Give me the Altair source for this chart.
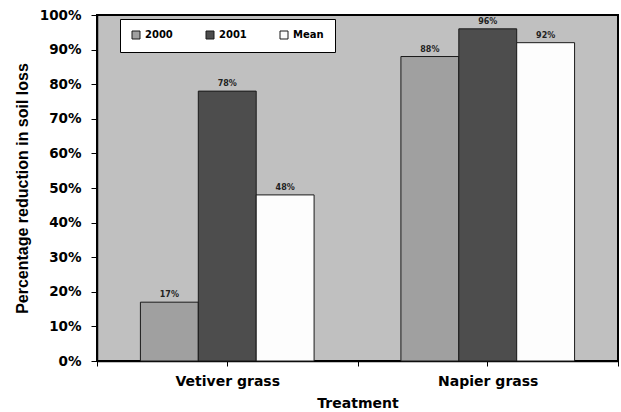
import altair as alt
import pandas as pd

# Percentage reduction in soil loss by hedge treatment and season
treatments = ["Vetiver grass", "Napier grass"]
series = ["2000", "2001", "Mean"]
reduction_2000 = [17, 88]
reduction_2001 = [78, 96]
reduction_mean = [48, 92]
series_colors = ["#a0a0a0", "#4d4d4d", "#fdfdfd"]
percent_ticks = [0, 10, 20, 30, 40, 50, 60, 70, 80, 90, 100]

rows = []
for i, t in enumerate(treatments):
    for s, vals in zip(series, [reduction_2000, reduction_2001, reduction_mean]):
        rows.append({"Treatment": t, "Series": s, "Reduction": vals[i] / 100})
df = pd.DataFrame(rows)

WIDE = "DejaVu Sans"
NARROW = "Liberation Sans"

x_scale = alt.Scale(paddingInner=0, paddingOuter=0)
x_off = alt.XOffset("Series:N", sort=series,
                    scale=alt.Scale(paddingInner=0, paddingOuter=0.75))
y_axis = alt.Axis(values=[v / 100 for v in percent_ticks], format=".0%",
                  labelOverlap=False, tickSize=6, labelPadding=10,
                  labelFontSize=13.5, titleFont=NARROW, titleFontSize=16,
                  titlePadding=9)
y_title = "Percentage reduction in soil loss"

bars = alt.Chart(df).mark_bar(stroke="#1a1a1a", strokeWidth=1).encode(
    x=alt.X("Treatment:N", sort=treatments, scale=x_scale, title="Treatment",
            axis=alt.Axis(orient="bottom", labelAngle=0, tickBand="extent",
                          tickSize=5, labelPadding=8, labelFontSize=14,
                          titleFontSize=14, titlePadding=8)),
    xOffset=x_off,
    y=alt.Y("Reduction:Q", scale=alt.Scale(domain=[0, 1]), title=y_title, axis=y_axis),
    color=alt.Color("Series:N", sort=series,
                    scale=alt.Scale(domain=series, range=series_colors),
                    legend=alt.Legend(title=None, orient="none", legendX=23, legendY=4,
                                      direction="horizontal", columns=3,
                                      fillColor="white", strokeColor="black",
                                      padding=11, columnPadding=28, gridAlign="all",
                                      symbolType="square", symbolSize=64,
                                      symbolStrokeColor="#1a1a1a", symbolStrokeWidth=1,
                                      symbolOpacity=1, labelOffset=4,
                                      labelFont=WIDE, labelFontSize=10,
                                      labelFontWeight="bold", labelColor="black")),
)

labels = alt.Chart(df).mark_text(
    baseline="alphabetic", dy=-5, font=WIDE, fontSize=8, fontWeight="bold", color="#222"
).encode(
    x=alt.X("Treatment:N", sort=treatments, scale=x_scale, title=None,
            axis=alt.Axis(orient="bottom", labels=False, domain=False,
                          tickSize=5)),
    xOffset=x_off,
    y=alt.Y("Reduction:Q", scale=alt.Scale(domain=[0, 1]), title=y_title, axis=y_axis),
    text=alt.Text("Reduction:Q", format=".0%"),
)

chart = alt.layer(bars, labels).resolve_axis(x="independent").properties(
    width=521, height=346,
    autosize=alt.AutoSizeParams(type="none"),
    padding={"left": 97, "top": 15, "right": 3, "bottom": 51},
    background="white",
).configure_view(
    fill="#c0c0c0", stroke="black", strokeWidth=2
).configure_axis(
    domainColor="black", domainWidth=1.5, tickColor="black", tickWidth=1,
    labelFont=WIDE, labelFontWeight="bold", labelColor="black",
    titleFont=WIDE, titleFontWeight="bold", titleColor="black",
    grid=False,
)

chart.save("out.html", embed_options={"renderer": "svg", "actions": False})
